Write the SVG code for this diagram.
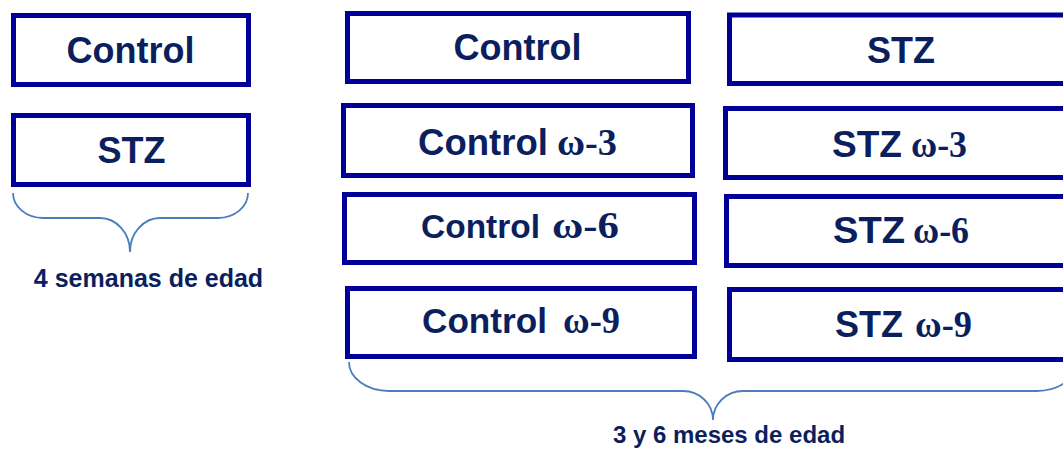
<svg xmlns="http://www.w3.org/2000/svg" width="1063" height="449" viewBox="0 0 1063 449">
<style>
.box{fill:#fff;stroke:#000099;stroke-width:5}
.t{font-family:"Liberation Sans",Arial,sans-serif;font-weight:bold;fill:#0B1F5E}
.w{font-family:"Liberation Serif","Times New Roman",serif;font-weight:bold;fill:#0B1F5E}
.br{fill:none;stroke:#4A7EBB;stroke-width:1.8}
</style>
<rect width="1063" height="449" fill="#fff"/>
<g id="n_ctrl4">
<rect class="box" x="13.5" y="15.5" width="235" height="69"/>
<text class="t" x="130.5" y="63" font-size="36" text-anchor="middle">Control</text>
</g>
<g id="n_stz4">
<rect class="box" x="13.5" y="115.5" width="235" height="69"/>
<text class="t" x="131.5" y="163" font-size="36" text-anchor="middle">STZ</text>
</g>
<g id="n_ctrl">
<rect class="box" x="347.5" y="13.5" width="341" height="68"/>
<text class="t" x="517.5" y="60" font-size="36" text-anchor="middle">Control</text>
</g>
<g id="n_ctrl3">
<rect class="box" x="343.5" y="105.5" width="349" height="70"/>
<text y="155"><tspan class="t" x="418" font-size="36" textLength="130" lengthAdjust="spacingAndGlyphs">Control</tspan><tspan class="w" x="557" font-size="37" textLength="60" lengthAdjust="spacingAndGlyphs">ω-3</tspan></text>
</g>
<g id="n_ctrl6">
<rect class="box" x="344.5" y="194.5" width="350" height="68"/>
<text y="238"><tspan class="t" x="421" font-size="34" textLength="119" lengthAdjust="spacingAndGlyphs">Control</tspan><tspan class="w" x="552" font-size="38" textLength="67" lengthAdjust="spacingAndGlyphs">ω-6</tspan></text>
</g>
<g id="n_ctrl9">
<rect class="box" x="347.5" y="288.5" width="347" height="68"/>
<text y="333"><tspan class="t" x="422" font-size="35" textLength="125" lengthAdjust="spacingAndGlyphs">Control</tspan><tspan class="w" x="563" font-size="37" textLength="57" lengthAdjust="spacingAndGlyphs">ω-9</tspan></text>
</g>
<g id="n_stz">
<rect class="box" x="729.5" y="15" width="345" height="68.5"/>
<text class="t" x="901" y="63" font-size="36" text-anchor="middle">STZ</text>
</g>
<g id="n_stz3">
<rect class="box" x="725.5" y="108.5" width="349" height="69"/>
<text y="157"><tspan class="t" x="832" font-size="36" textLength="70" lengthAdjust="spacingAndGlyphs">STZ</tspan><tspan class="w" x="911" font-size="37" textLength="56" lengthAdjust="spacingAndGlyphs">ω-3</tspan></text>
</g>
<g id="n_stz6">
<rect class="box" x="726.5" y="196.5" width="348" height="69"/>
<text y="243"><tspan class="t" x="833" font-size="36" textLength="72" lengthAdjust="spacingAndGlyphs">STZ</tspan><tspan class="w" x="913" font-size="37" textLength="56" lengthAdjust="spacingAndGlyphs">ω-6</tspan></text>
</g>
<g id="n_stz9">
<rect class="box" x="729.5" y="289.5" width="345" height="70"/>
<text y="337"><tspan class="t" x="835" font-size="36" textLength="68" lengthAdjust="spacingAndGlyphs">STZ</tspan><tspan class="w" x="915" font-size="37" textLength="57" lengthAdjust="spacingAndGlyphs">ω-9</tspan></text>
</g>
<g id="connectors">
<path class="br" d="M13,193 A30 25 0 0 0 43,218 L100,218 A30 34 0 0 1 130,252 A30 34 0 0 1 160,218 L218,218 A30 25 0 0 0 248,193"/>
<path class="br" d="M349,362 A40 29 0 0 0 389,391 L683,391 A30 29 0 0 1 713,420 A30 29 0 0 1 743,391 L1037,391 A40 29 0 0 0 1077,362"/>
</g>
<g id="labels">
<text class="t" x="148.5" y="287" font-size="25" text-anchor="middle">4 semanas de edad</text>
<text class="t" x="729" y="443" font-size="24" text-anchor="middle">3 y 6 meses de edad</text>
</g>
</svg>
